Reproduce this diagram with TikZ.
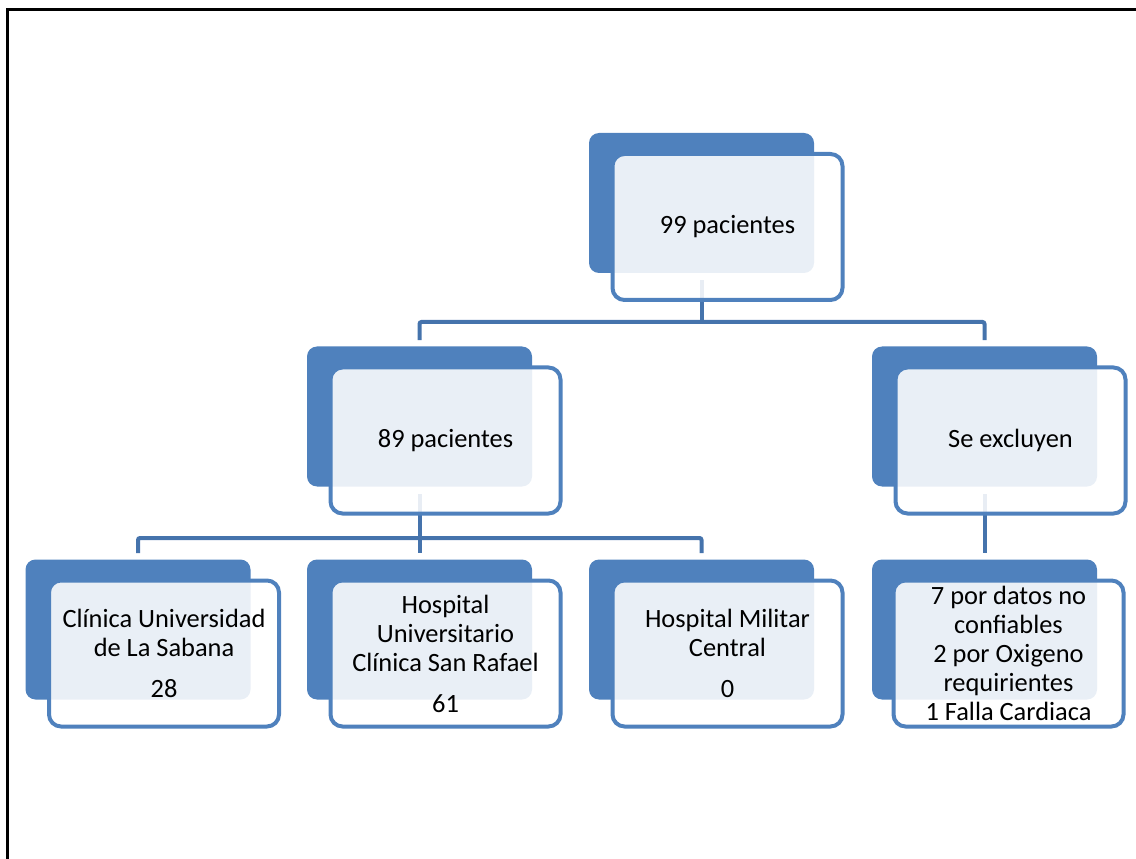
\documentclass[tikz,border=0pt]{standalone}
\usepackage{fontspec}
\setmainfont{Carlito}
\definecolor{boxblue}{HTML}{4F81BD}
\definecolor{linkblue}{HTML}{4573AC}
\begin{document}
\begin{tikzpicture}[x=0.75pt,y=-0.75pt,
  back/.style={rectangle, rounded corners=7.5pt, fill=boxblue, minimum width=168.75pt, minimum height=105pt, inner sep=0pt},
  front/.style={rectangle, rounded corners=9pt, draw=boxblue, line width=3pt, fill=white, fill opacity=0.88, text opacity=1, minimum width=172.5pt, minimum height=109.5pt, inner sep=0pt, align=center, font=\fontsize{19.8pt}{21.75pt}\selectfont},
  link/.style={draw=linkblue, line width=3pt, rounded corners=1.5pt},
  frame/.style={draw=black, line width=2.25pt}]
\useasboundingbox (0,0) rectangle (1136,859);
% frame
\coordinate (fr1) at (7,859);
\coordinate (fr2) at (7,10);
\coordinate (fr3) at (1136,10);
\draw[frame] (fr1) -- (fr2) -- (fr3);
% back boxes
\node[back] (b0) at (701.5,203) {};
\node[back] (b1) at (419.5,416.5) {};
\node[back] (b2) at (984.5,416.5) {};
\node[back] (b3) at (138,629.5) {};
\node[back] (b4) at (419.5,629.5) {};
\node[back] (b5) at (701.5,629.5) {};
\node[back] (b6) at (984.5,629.5) {};
% connectors
\coordinate (j0) at (701.5,322);
\coordinate (j1) at (419.5,538);
\draw[link] ([yshift=-5.25pt]b0.south) -- (j0);
\draw[link] ([yshift=4.5pt]b1.north) |- (j0) -| ([yshift=4.5pt]b2.north);
\draw[link] ([yshift=-5.25pt]b1.south) -- (j1);
\draw[link] ([yshift=4.5pt]b3.north) |- (j1) -| ([yshift=4.5pt]b5.north);
\draw[link] (j1) -- ([yshift=4.5pt]b4.north);
\draw[link] ([yshift=-5.25pt]b2.south) -- ([yshift=4.5pt]b6.north);
% front boxes
\node[front] (f0) at (727.5,227) {99 pacientes};
\node[front] (f1) at (445.5,440.5) {89 pacientes};
\node[front] (f2) at (1010.5,440.5) {Se excluyen};
\node[front] (f3) at (164,653.5) {Clínica Universidad\\de La Sabana\\[9pt]28};
\node[front] (f4) at (445.5,653.5) {Hospital\\Universitario\\Clínica San Rafael\\[9pt]61};
\node[front] (f5) at (727.5,653.5) {Hospital Militar\\Central\\[9pt]0};
\node[front] (f6) at (1008.5,653.5) {7 por datos no\\confiables\\2 por Oxigeno\\requirientes\\1 Falla Cardiaca};
\end{tikzpicture}
\end{document}
